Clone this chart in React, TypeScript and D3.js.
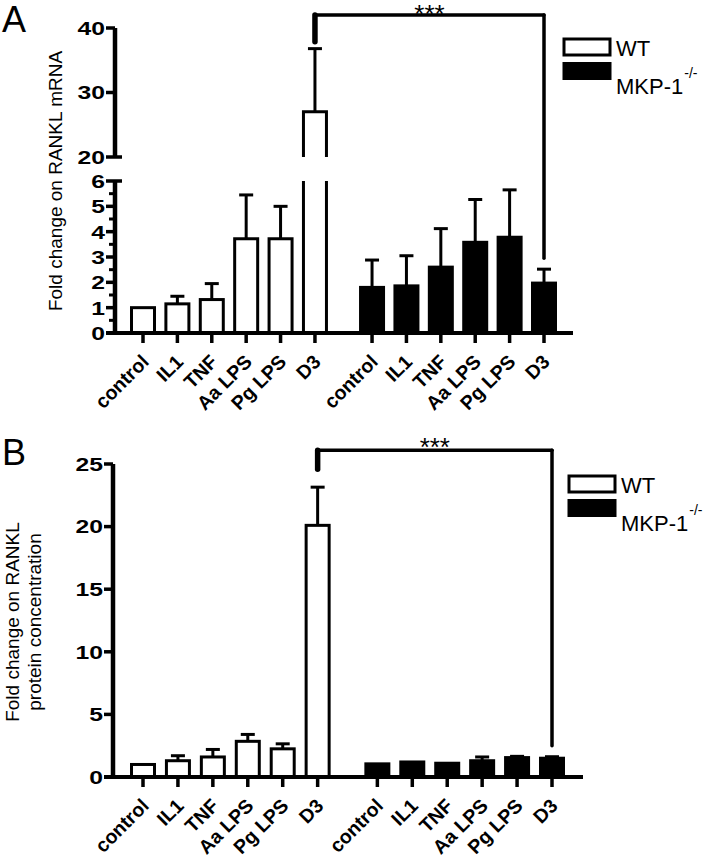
import React from 'react';
import * as d3 from 'd3';

// ---------- data ----------
const categories = ['control', 'IL1', 'TNF', 'Aa LPS', 'Pg LPS', 'D3'];
const seriesNames = ['WT', 'MKP-1'];

// Panel A: fold change on RANKL mRNA
const mrnaWT = [1.0, 1.15, 1.32, 3.72, 3.72, 27.0];
const mrnaWTErr = [1.0, 1.45, 1.95, 5.45, 5.0, 36.8];
const mrnaKO = [1.8, 1.86, 2.6, 3.58, 3.78, 1.97];
const mrnaKOErr = [2.88, 3.05, 4.12, 5.27, 5.65, 2.52];
const mrnaTicksLow = [0, 1, 2, 3, 4, 5, 6];
const mrnaMinorLow = [0.5, 1.5, 2.5, 3.5, 4.5, 5.5];
const mrnaTicksHigh = [20, 30, 40];

// Panel B: fold change on RANKL protein concentration
const protWT = [1.0, 1.3, 1.6, 2.85, 2.25, 20.1];
const protWTErr = [1.0, 1.7, 2.2, 3.4, 2.65, 23.15];
const protKO = [1.05, 1.2, 1.1, 1.3, 1.55, 1.5];
const protKOErr = [1.05, 1.2, 1.1, 1.6, 1.65, 1.62];
const protTicks = [0, 5, 10, 15, 20, 25];

const sigLabel = '***';

const FONT = "'Liberation Sans', Arial, Helvetica, sans-serif";

type Seg = {
  domain: [number, number];
  range: [number, number];
  ticks: number[];
  minor: number[];
  breakBottom?: boolean;
  breakTop?: boolean;
};

type PanelCfg = {
  letter: string;
  letterY: number;
  axisX: number;
  axisEnd: number;
  segs: Seg[];
  xFirst: number;
  xLast: number;
  gapSlots: number;
  wt: number[];
  wtErr: number[];
  ko: number[];
  koErr: number[];
  bracketValue: number;
  gapL: number;
  gapR: number;
  starDy: number;
  labelLines: string[];
  labelX: number[];
  labelCY: number;
  legendX: number;
  legendY: number;
};

function Panel({ cfg }: { cfg: PanelCfg }) {
  const scales = cfg.segs.map((s) => ({ seg: s, sc: d3.scaleLinear().domain(s.domain).range(s.range) }));
  const segIndex = (v: number) => scales.findIndex((s) => v >= s.seg.domain[0] - 1e-9 && v <= s.seg.domain[1] + 1e-9);
  const y = (v: number) => {
    const i = segIndex(v);
    if (i >= 0) return scales[i].sc(v);
    const last = scales[scales.length - 1];
    if (v > last.seg.domain[1]) return last.sc(v);
    if (v < scales[0].seg.domain[0]) return scales[0].sc(v);
    return NaN;
  };
  const y0 = y(0);
  const nSlots = categories.length * 2 - 1 + cfg.gapSlots;
  const x = d3.scaleLinear().domain([0, nSlots]).range([cfg.xFirst, cfg.xLast]);
  const slot = (g: number, i: number) => g * (categories.length + cfg.gapSlots) + i;
  const barW = 23;
  const capW = 14;

  const bars: React.ReactNode[] = [];
  const data = [
    { vals: cfg.wt, errs: cfg.wtErr, fill: '#fff' },
    { vals: cfg.ko, errs: cfg.koErr, fill: '#000' },
  ];
  data.forEach((ser, g) => {
    ser.vals.forEach((v, i) => {
      const cx = x(slot(g, i));
      const l = cx - barW / 2;
      const r = cx + barW / 2;
      const top = segIndex(v);
      const key = `${g}-${i}`;
      if (ser.errs[i] > v) {
        bars.push(
          <g key={'e' + key} stroke="#000" strokeWidth={3} fill="none">
            <line x1={cx} x2={cx} y1={y(v)} y2={y(ser.errs[i])} />
            <line x1={cx - capW / 2} x2={cx + capW / 2} y1={y(ser.errs[i])} y2={y(ser.errs[i])} />
          </g>
        );
      }
      if (top <= 0) {
        bars.push(
          <rect key={'b' + key} x={l} y={y(v)} width={barW} height={y0 - y(v)} fill={ser.fill} stroke="#000" strokeWidth={3} />
        );
      } else {
        for (let s = 0; s < top; s++) {
          const sc = scales[s].sc;
          const [a, b] = scales[s].seg.domain;
          bars.push(
            <g key={`s${s}` + key} stroke="#000" strokeWidth={3}>
              <rect x={l} y={sc(b)} width={barW} height={sc(a) - sc(b)} fill={ser.fill} stroke="none" />
              <line x1={l} x2={l} y1={sc(a)} y2={sc(b)} />
              <line x1={r} x2={r} y1={sc(a)} y2={sc(b)} />
            </g>
          );
        }
        const sc = scales[top].sc;
        const base = sc(scales[top].seg.domain[0]);
        bars.push(
          <path
            key={'t' + key}
            d={`M${l},${base}L${l},${sc(v)}L${r},${sc(v)}L${r},${base}`}
            fill={ser.fill}
            stroke="#000"
            strokeWidth={3}
          />
        );
      }
    });
  });

  const axis: React.ReactNode[] = [];
  const majLen = 9;
  const minLen = 6;
  scales.forEach(({ seg, sc }, si) => {
    axis.push(
      <line key={'ax' + si} x1={cfg.axisX} x2={cfg.axisX} y1={sc(seg.domain[0]) + (si === 0 ? 2 : 0)} y2={sc(seg.domain[1])} stroke="#000" strokeWidth={4.5} />
    );
    seg.ticks.forEach((t) => {
      const isBreak = (seg.breakTop && t === seg.domain[1]) || (seg.breakBottom && t === seg.domain[0]);
      axis.push(
        <line key={`tk${si}-${t}`} x1={cfg.axisX - majLen} x2={cfg.axisX + (isBreak ? 7 : 0)} y1={sc(t)} y2={sc(t)} stroke="#000" strokeWidth={3.5} />
      );
      axis.push(
        <text
          key={`tl${si}-${t}`}
          transform={`translate(${cfg.axisX - majLen - 1},${sc(t)}) scale(1.3,1)`}
          textAnchor="end"
          dy="0.36em"
          fontFamily={FONT}
          fontWeight="bold"
          fontSize={19}
        >
          {t}
        </text>
      );
    });
    seg.minor.forEach((t) => {
      axis.push(
        <line key={`mk${si}-${t}`} x1={cfg.axisX - minLen} x2={cfg.axisX} y1={sc(t)} y2={sc(t)} stroke="#000" strokeWidth={3} />
      );
    });
  });
  axis.push(<line key="xax" x1={cfg.axisX - majLen} x2={cfg.axisEnd} y1={y0} y2={y0} stroke="#000" strokeWidth={4} />);
  data.forEach((_, g) => {
    categories.forEach((c, i) => {
      const cx = x(slot(g, i));
      axis.push(<line key={`xt${g}-${i}`} x1={cx} x2={cx} y1={y0} y2={y0 + 10} stroke="#000" strokeWidth={3.5} />);
      axis.push(
        <text
          key={`xl${g}-${i}`}
          transform={`translate(${cx + 7},${y0 + 30}) rotate(-45)`}
          textAnchor="end"
          fontFamily={FONT}
          fontWeight="bold"
          fontSize={19.5}
        >
          {c}
        </text>
      );
    });
  });

  const xL = x(slot(0, categories.length - 1));
  const xR = x(slot(1, categories.length - 1));
  const yBr = y(cfg.bracketValue);
  const lastWTErr = cfg.wtErr[categories.length - 1];
  const lastKOErr = cfg.koErr[categories.length - 1];
  const bracket = (
    <g stroke="#000" fill="none" strokeLinecap="round">
      <line x1={xL} x2={xR} y1={yBr} y2={yBr} strokeWidth={3.5} />
      <line x1={xL} x2={xL} y1={yBr} y2={y(lastWTErr) - cfg.gapL} strokeWidth={5.5} />
      <line x1={xR} x2={xR} y1={yBr} y2={y(lastKOErr) - cfg.gapR} strokeWidth={3.5} />
      <text x={(xL + xR) / 2} y={yBr + cfg.starDy} textAnchor="middle" fontFamily={FONT} fontSize={26} stroke="none" fill="#000">
        {sigLabel}
      </text>
    </g>
  );

  const lg = (
    <g fontFamily={FONT} fontSize={22}>
      <rect x={cfg.legendX} y={cfg.legendY} width={46} height={16} fill="#fff" stroke="#000" strokeWidth={3} />
      <text x={cfg.legendX + 52} y={cfg.legendY + 16.5}>{seriesNames[0]}</text>
      <rect x={cfg.legendX - 1.5} y={cfg.legendY + 23} width={49} height={18} fill="#000" />
      <text x={cfg.legendX + 52} y={cfg.legendY + 55}>
        {seriesNames[1]}
        <tspan fontSize={14} dy={-16} dx={1}>-/-</tspan>
      </text>
    </g>
  );

  const ylab = cfg.labelLines.map((t, i) => (
    <text
      key={'yl' + i}
      transform={`translate(${cfg.labelX[i]},${cfg.labelCY}) rotate(-90)`}
      textAnchor="middle"
      fontFamily={FONT}
      fontSize={19}
    >
      {t}
    </text>
  ));

  return (
    <g>
      <text x={2} y={cfg.letterY} fontFamily={FONT} fontSize={36}>
        {cfg.letter}
      </text>
      {ylab}
      {bars}
      {axis}
      {bracket}
      {lg}
    </g>
  );
}

const panelA: PanelCfg = {
  letter: 'A',
  letterY: 32,
  axisX: 115,
  axisEnd: 573,
  segs: [
    { domain: [0, 6], range: [333, 181], ticks: mrnaTicksLow, minor: mrnaMinorLow, breakTop: true },
    { domain: [20, 40], range: [157, 28], ticks: mrnaTicksHigh, minor: [], breakBottom: true },
  ],
  xFirst: 143,
  xLast: 544,
  gapSlots: 0.66,
  wt: mrnaWT,
  wtErr: mrnaWTErr,
  ko: mrnaKO,
  koErr: mrnaKOErr,
  bracketValue: 42,
  gapL: 7,
  gapR: 11,
  starDy: 8,
  labelLines: ['Fold change on RANKL mRNA'],
  labelX: [62],
  labelCY: 181,
  legendX: 564,
  legendY: 39,
};

const panelB: PanelCfg = {
  letter: 'B',
  letterY: 465,
  axisX: 113,
  axisEnd: 583,
  segs: [{ domain: [0, 25], range: [777, 464], ticks: protTicks, minor: [] }],
  xFirst: 143,
  xLast: 552,
  gapSlots: 0.71,
  wt: protWT,
  wtErr: protWTErr,
  ko: protKO,
  koErr: protKOErr,
  bracketValue: 26.1,
  gapL: 18,
  gapR: 11,
  starDy: 6,
  labelLines: ['Fold change on RANKL', 'protein concentration'],
  labelX: [19, 41],
  labelCY: 622,
  legendX: 569,
  legendY: 476,
};

export default function App() {
  return (
    <svg width={720} height={860} style={{ position: 'absolute', left: 0, top: 0, background: '#fff' }}>
      <rect width={720} height={860} fill="#fff" />
      <Panel cfg={panelA} />
      <Panel cfg={panelB} />
    </svg>
  );
}
